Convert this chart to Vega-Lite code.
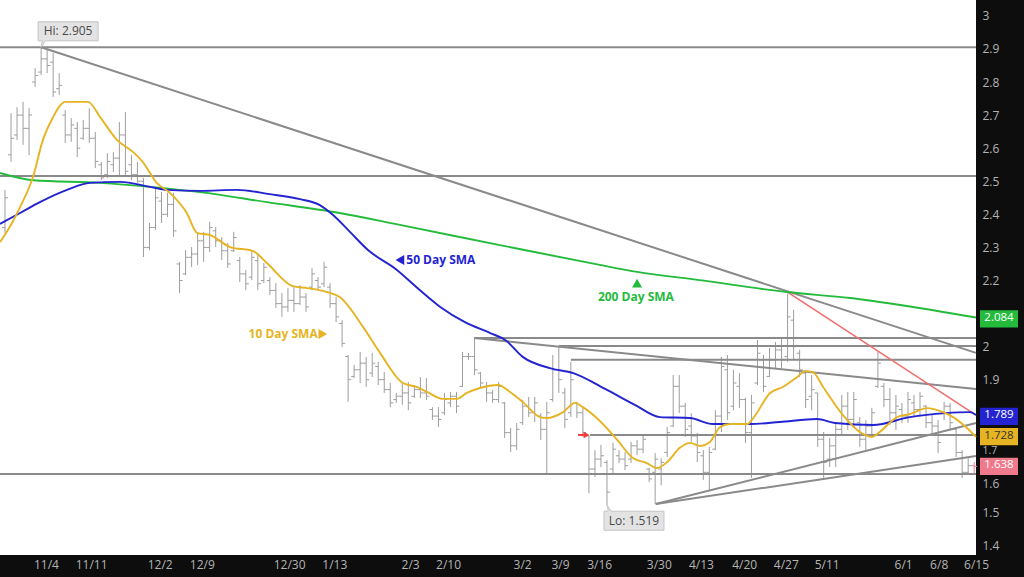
{
  "$schema": "https://vega.github.io/schema/vega-lite/v6.json",
  "width": 976,
  "height": 555,
  "autosize": {"type": "none"},
  "padding": {"left": 0, "top": 0, "right": 48, "bottom": 22},
  "background": "#0d0d0d",
  "view": {"fill": "#ffffff", "stroke": null},
  "config": {"font": "Open Sans", "axis": {"labelFont": "Open Sans", "labelFontSize": 12, "labelColor": "#b4b4b4", "grid": false, "domain": false, "ticks": false, "labelOverlap": false, "labelFlush": false}},
  "datasets": {
    "bars": [
{"i":0,"o":2.36,"h":2.474,"l":2.344,"c":2.45},
{"i":1,"o":2.58,"h":2.706,"l":2.558,"c":2.63},
{"i":2,"o":2.64,"h":2.724,"l":2.625,"c":2.70},
{"i":3,"o":2.70,"h":2.740,"l":2.610,"c":2.66},
{"i":4,"o":2.66,"h":2.721,"l":2.579,"c":2.70},
{"i":5,"o":2.80,"h":2.842,"l":2.785,"c":2.82},
{"i":6,"o":2.83,"h":2.905,"l":2.821,"c":2.87},
{"i":7,"o":2.87,"h":2.897,"l":2.827,"c":2.85},
{"i":8,"o":2.86,"h":2.888,"l":2.755,"c":2.77},
{"i":9,"o":2.78,"h":2.827,"l":2.761,"c":2.79},
{"i":10,"o":2.70,"h":2.715,"l":2.616,"c":2.64},
{"i":11,"o":2.64,"h":2.691,"l":2.619,"c":2.67},
{"i":12,"o":2.66,"h":2.679,"l":2.573,"c":2.60},
{"i":13,"o":2.63,"h":2.685,"l":2.625,"c":2.66},
{"i":14,"o":2.66,"h":2.721,"l":2.616,"c":2.63},
{"i":15,"o":2.63,"h":2.649,"l":2.540,"c":2.56},
{"i":16,"o":2.55,"h":2.558,"l":2.504,"c":2.51},
{"i":17,"o":2.52,"h":2.585,"l":2.510,"c":2.56},
{"i":18,"o":2.55,"h":2.588,"l":2.528,"c":2.57},
{"i":19,"o":2.57,"h":2.679,"l":2.513,"c":2.64},
{"i":20,"o":2.64,"h":2.709,"l":2.513,"c":2.53},
{"i":21,"o":2.55,"h":2.579,"l":2.504,"c":2.52},
{"i":22,"o":2.52,"h":2.558,"l":2.495,"c":2.50},
{"i":23,"o":2.50,"h":2.510,"l":2.271,"c":2.30},
{"i":24,"o":2.30,"h":2.374,"l":2.292,"c":2.36},
{"i":25,"o":2.36,"h":2.480,"l":2.353,"c":2.45},
{"i":26,"o":2.44,"h":2.468,"l":2.374,"c":2.40},
{"i":27,"o":2.40,"h":2.465,"l":2.392,"c":2.43},
{"i":28,"o":2.43,"h":2.465,"l":2.332,"c":2.35},
{"i":29,"o":2.25,"h":2.256,"l":2.162,"c":2.20},
{"i":30,"o":2.22,"h":2.292,"l":2.216,"c":2.27},
{"i":31,"o":2.27,"h":2.301,"l":2.241,"c":2.28},
{"i":32,"o":2.28,"h":2.344,"l":2.247,"c":2.32},
{"i":33,"o":2.32,"h":2.347,"l":2.256,"c":2.30},
{"i":34,"o":2.30,"h":2.377,"l":2.286,"c":2.36},
{"i":35,"o":2.35,"h":2.362,"l":2.301,"c":2.32},
{"i":36,"o":2.32,"h":2.331,"l":2.262,"c":2.29},
{"i":37,"o":2.29,"h":2.313,"l":2.238,"c":2.25},
{"i":38,"o":2.29,"h":2.347,"l":2.286,"c":2.33},
{"i":39,"o":2.26,"h":2.271,"l":2.195,"c":2.22},
{"i":40,"o":2.22,"h":2.232,"l":2.171,"c":2.19},
{"i":41,"o":2.21,"h":2.292,"l":2.201,"c":2.27},
{"i":42,"o":2.26,"h":2.283,"l":2.171,"c":2.19},
{"i":43,"o":2.20,"h":2.253,"l":2.192,"c":2.24},
{"i":44,"o":2.20,"h":2.210,"l":2.156,"c":2.17},
{"i":45,"o":2.17,"h":2.192,"l":2.117,"c":2.13},
{"i":46,"o":2.13,"h":2.162,"l":2.090,"c":2.12},
{"i":47,"o":2.12,"h":2.177,"l":2.105,"c":2.14},
{"i":48,"o":2.14,"h":2.180,"l":2.105,"c":2.13},
{"i":49,"o":2.13,"h":2.186,"l":2.126,"c":2.15},
{"i":50,"o":2.15,"h":2.162,"l":2.105,"c":2.12},
{"i":51,"o":2.18,"h":2.238,"l":2.171,"c":2.22},
{"i":52,"o":2.20,"h":2.210,"l":2.171,"c":2.18},
{"i":53,"o":2.19,"h":2.256,"l":2.180,"c":2.24},
{"i":54,"o":2.18,"h":2.192,"l":2.117,"c":2.13},
{"i":55,"o":2.13,"h":2.150,"l":2.074,"c":2.09},
{"i":56,"o":2.07,"h":2.080,"l":1.999,"c":2.01},
{"i":57,"o":1.97,"h":1.975,"l":1.833,"c":1.90},
{"i":58,"o":1.91,"h":1.945,"l":1.905,"c":1.93},
{"i":59,"o":1.93,"h":1.984,"l":1.890,"c":1.95},
{"i":60,"o":1.95,"h":1.969,"l":1.878,"c":1.90},
{"i":61,"o":1.92,"h":1.981,"l":1.908,"c":1.95},
{"i":62,"o":1.94,"h":1.954,"l":1.884,"c":1.90},
{"i":63,"o":1.90,"h":1.923,"l":1.860,"c":1.87},
{"i":64,"o":1.87,"h":1.890,"l":1.817,"c":1.83},
{"i":65,"o":1.84,"h":1.860,"l":1.830,"c":1.85},
{"i":66,"o":1.85,"h":1.890,"l":1.824,"c":1.86},
{"i":67,"o":1.86,"h":1.893,"l":1.808,"c":1.83},
{"i":68,"o":1.85,"h":1.884,"l":1.845,"c":1.87},
{"i":69,"o":1.87,"h":1.908,"l":1.845,"c":1.86},
{"i":70,"o":1.86,"h":1.905,"l":1.839,"c":1.85},
{"i":71,"o":1.81,"h":1.817,"l":1.778,"c":1.79},
{"i":72,"o":1.79,"h":1.817,"l":1.757,"c":1.78},
{"i":73,"o":1.80,"h":1.860,"l":1.793,"c":1.84},
{"i":74,"o":1.83,"h":1.863,"l":1.817,"c":1.85},
{"i":75,"o":1.85,"h":1.863,"l":1.799,"c":1.82},
{"i":76,"o":1.88,"h":1.984,"l":1.878,"c":1.97},
{"i":77,"o":1.97,"h":1.981,"l":1.960,"c":1.97},
{"i":78,"o":1.97,"h":2.029,"l":1.914,"c":1.93},
{"i":79,"o":1.92,"h":1.923,"l":1.875,"c":1.89},
{"i":80,"o":1.88,"h":1.893,"l":1.833,"c":1.86},
{"i":81,"o":1.86,"h":1.869,"l":1.830,"c":1.84},
{"i":82,"o":1.84,"h":1.893,"l":1.830,"c":1.88},
{"i":83,"o":1.83,"h":1.833,"l":1.724,"c":1.74},
{"i":84,"o":1.74,"h":1.754,"l":1.681,"c":1.70},
{"i":85,"o":1.70,"h":1.769,"l":1.687,"c":1.75},
{"i":86,"o":1.77,"h":1.839,"l":1.763,"c":1.82},
{"i":87,"o":1.82,"h":1.848,"l":1.787,"c":1.80},
{"i":88,"o":1.80,"h":1.848,"l":1.772,"c":1.83},
{"i":89,"o":1.79,"h":1.799,"l":1.718,"c":1.75},
{"i":90,"o":1.75,"h":1.833,"l":1.618,"c":1.80},
{"i":91,"o":1.84,"h":1.975,"l":1.833,"c":1.93},
{"i":92,"o":1.93,"h":1.999,"l":1.860,"c":1.90},
{"i":93,"o":1.86,"h":1.875,"l":1.754,"c":1.78},
{"i":94,"o":1.80,"h":1.954,"l":1.787,"c":1.90},
{"i":95,"o":1.83,"h":1.833,"l":1.784,"c":1.80},
{"i":96,"o":1.80,"h":1.817,"l":1.727,"c":1.74},
{"i":97,"o":1.73,"h":1.733,"l":1.557,"c":1.63},
{"i":98,"o":1.63,"h":1.687,"l":1.606,"c":1.66},
{"i":99,"o":1.66,"h":1.703,"l":1.636,"c":1.67},
{"i":100,"o":1.65,"h":1.657,"l":1.519,"c":1.56},
{"i":101,"o":1.63,"h":1.709,"l":1.618,"c":1.69},
{"i":102,"o":1.67,"h":1.687,"l":1.648,"c":1.66},
{"i":103,"o":1.66,"h":1.681,"l":1.627,"c":1.64},
{"i":104,"o":1.66,"h":1.712,"l":1.648,"c":1.70},
{"i":105,"o":1.70,"h":1.718,"l":1.672,"c":1.69},
{"i":106,"o":1.69,"h":1.733,"l":1.678,"c":1.72},
{"i":107,"o":1.63,"h":1.633,"l":1.591,"c":1.60},
{"i":108,"o":1.62,"h":1.678,"l":1.524,"c":1.66},
{"i":109,"o":1.63,"h":1.663,"l":1.581,"c":1.65},
{"i":110,"o":1.68,"h":1.757,"l":1.666,"c":1.74},
{"i":111,"o":1.76,"h":1.914,"l":1.757,"c":1.88},
{"i":112,"o":1.88,"h":1.914,"l":1.799,"c":1.82},
{"i":113,"o":1.82,"h":1.830,"l":1.727,"c":1.75},
{"i":114,"o":1.76,"h":1.799,"l":1.712,"c":1.73},
{"i":115,"o":1.73,"h":1.739,"l":1.651,"c":1.68},
{"i":116,"o":1.67,"h":1.687,"l":1.597,"c":1.62},
{"i":117,"o":1.62,"h":1.697,"l":1.566,"c":1.68},
{"i":118,"o":1.69,"h":1.808,"l":1.687,"c":1.79},
{"i":119,"o":1.79,"h":1.969,"l":1.742,"c":1.94},
{"i":120,"o":1.93,"h":1.975,"l":1.778,"c":1.80},
{"i":121,"o":1.82,"h":1.930,"l":1.808,"c":1.89},
{"i":122,"o":1.88,"h":1.920,"l":1.814,"c":1.84},
{"i":123,"o":1.84,"h":1.845,"l":1.709,"c":1.74},
{"i":124,"o":1.74,"h":1.854,"l":1.603,"c":1.83},
{"i":125,"o":1.89,"h":2.020,"l":1.884,"c":1.98},
{"i":126,"o":1.96,"h":1.975,"l":1.863,"c":1.88},
{"i":127,"o":1.91,"h":1.996,"l":1.908,"c":1.96},
{"i":128,"o":1.96,"h":2.014,"l":1.935,"c":1.99},
{"i":129,"o":1.99,"h":2.026,"l":1.935,"c":1.96},
{"i":130,"o":1.97,"h":2.160,"l":1.954,"c":2.09},
{"i":131,"o":2.08,"h":2.111,"l":1.960,"c":2.00},
{"i":132,"o":1.98,"h":1.990,"l":1.908,"c":1.93},
{"i":133,"o":1.92,"h":1.930,"l":1.814,"c":1.84},
{"i":134,"o":1.85,"h":1.914,"l":1.808,"c":1.87},
{"i":135,"o":1.86,"h":1.860,"l":1.697,"c":1.72},
{"i":136,"o":1.72,"h":1.742,"l":1.603,"c":1.65},
{"i":137,"o":1.66,"h":1.724,"l":1.636,"c":1.70},
{"i":138,"o":1.70,"h":1.769,"l":1.636,"c":1.75},
{"i":139,"o":1.75,"h":1.854,"l":1.733,"c":1.82},
{"i":140,"o":1.82,"h":1.863,"l":1.748,"c":1.78},
{"i":141,"o":1.78,"h":1.863,"l":1.757,"c":1.84},
{"i":142,"o":1.77,"h":1.787,"l":1.697,"c":1.72},
{"i":143,"o":1.72,"h":1.778,"l":1.687,"c":1.76},
{"i":144,"o":1.76,"h":1.815,"l":1.724,"c":1.80},
{"i":145,"o":1.88,"h":1.984,"l":1.875,"c":1.95},
{"i":146,"o":1.88,"h":1.890,"l":1.817,"c":1.84},
{"i":147,"o":1.84,"h":1.875,"l":1.763,"c":1.80},
{"i":148,"o":1.80,"h":1.854,"l":1.748,"c":1.82},
{"i":149,"o":1.81,"h":1.830,"l":1.769,"c":1.79},
{"i":150,"o":1.79,"h":1.863,"l":1.769,"c":1.84},
{"i":151,"o":1.83,"h":1.854,"l":1.787,"c":1.81},
{"i":152,"o":1.81,"h":1.863,"l":1.787,"c":1.85},
{"i":153,"o":1.82,"h":1.824,"l":1.754,"c":1.77},
{"i":154,"o":1.77,"h":1.793,"l":1.733,"c":1.76},
{"i":155,"o":1.76,"h":1.778,"l":1.678,"c":1.71},
{"i":156,"o":1.80,"h":1.833,"l":1.778,"c":1.82},
{"i":157,"o":1.82,"h":1.830,"l":1.748,"c":1.77},
{"i":158,"o":1.75,"h":1.757,"l":1.666,"c":1.68},
{"i":159,"o":1.68,"h":1.687,"l":1.603,"c":1.62},
{"i":160,"o":1.62,"h":1.663,"l":1.612,"c":1.64},
{"i":161,"o":1.64,"h":1.651,"l":1.618,"c":1.638}
    ],
    "ma": [
{"i":-0.83,"v":2.525,"s":"200"},{"i":4.7,"v":2.503,"s":"200"},{"i":15.8,"v":2.495,"s":"200"},{"i":24.1,"v":2.483,"s":"200"},{"i":32.4,"v":2.467,"s":"200"},{"i":43.5,"v":2.437,"s":"200"},{"i":55.6,"v":2.404,"s":"200"},{"i":65.6,"v":2.368,"s":"200"},{"i":82.2,"v":2.307,"s":"200"},{"i":98.8,"v":2.247,"s":"200"},{"i":105,"v":2.226,"s":"200"},{"i":115.4,"v":2.201,"s":"200"},{"i":129.9,"v":2.165,"s":"200"},{"i":140.4,"v":2.147,"s":"200"},{"i":148.7,"v":2.126,"s":"200"},{"i":161.3,"v":2.088,"s":"200"},
{"i":-0.83,"v":2.371,"s":"50"},{"i":2.5,"v":2.404,"s":"50"},{"i":5.8,"v":2.437,"s":"50"},{"i":10.3,"v":2.474,"s":"50"},{"i":14.1,"v":2.495,"s":"50"},{"i":19.1,"v":2.498,"s":"50"},{"i":24.1,"v":2.483,"s":"50"},{"i":26.9,"v":2.474,"s":"50"},{"i":32.4,"v":2.471,"s":"50"},{"i":38.5,"v":2.474,"s":"50"},{"i":44.0,"v":2.461,"s":"50"},{"i":49.0,"v":2.446,"s":"50"},{"i":52.3,"v":2.428,"s":"50"},{"i":54.5,"v":2.398,"s":"50"},{"i":57.3,"v":2.347,"s":"50"},{"i":60.3,"v":2.292,"s":"50"},{"i":65.1,"v":2.232,"s":"50"},{"i":68.9,"v":2.171,"s":"50"},{"i":72.3,"v":2.120,"s":"50"},{"i":76.4,"v":2.074,"s":"50"},{"i":80.6,"v":2.041,"s":"50"},{"i":83.1,"v":2.020,"s":"50"},{"i":86.0,"v":1.969,"s":"50"},{"i":90.5,"v":1.935,"s":"50"},{"i":94.4,"v":1.920,"s":"50"},{"i":100.0,"v":1.869,"s":"50"},{"i":104.7,"v":1.823,"s":"50"},{"i":108.8,"v":1.787,"s":"50"},{"i":113.8,"v":1.784,"s":"50"},{"i":117.6,"v":1.766,"s":"50"},{"i":123.8,"v":1.766,"s":"50"},{"i":128.7,"v":1.772,"s":"50"},{"i":134.9,"v":1.781,"s":"50"},{"i":137.9,"v":1.769,"s":"50"},{"i":144.2,"v":1.763,"s":"50"},{"i":150.3,"v":1.787,"s":"50"},{"i":156.2,"v":1.799,"s":"50"},{"i":160.3,"v":1.802,"s":"50"},{"i":161.3,"v":1.793,"s":"50"},
{"i":-0.83,"v":2.316,"s":"10"},{"i":1.16,"v":2.374,"s":"10"},{"i":2.5,"v":2.422,"s":"10"},{"i":4.65,"v":2.513,"s":"10"},{"i":6.3,"v":2.625,"s":"10"},{"i":8.0,"v":2.694,"s":"10"},{"i":9.1,"v":2.728,"s":"10"},{"i":10.0,"v":2.740,"s":"10"},{"i":13.8,"v":2.740,"s":"10"},{"i":15.8,"v":2.694,"s":"10"},{"i":18.6,"v":2.625,"s":"10"},{"i":21.3,"v":2.588,"s":"10"},{"i":22.9,"v":2.558,"s":"10"},{"i":25.2,"v":2.495,"s":"10"},{"i":27.4,"v":2.465,"s":"10"},{"i":30.2,"v":2.404,"s":"10"},{"i":31.9,"v":2.344,"s":"10"},{"i":34.1,"v":2.337,"s":"10"},{"i":37.4,"v":2.301,"s":"10"},{"i":41.2,"v":2.289,"s":"10"},{"i":43.5,"v":2.253,"s":"10"},{"i":47.8,"v":2.183,"s":"10"},{"i":50.2,"v":2.177,"s":"10"},{"i":53.5,"v":2.165,"s":"10"},{"i":55.6,"v":2.150,"s":"10"},{"i":59.5,"v":2.059,"s":"10"},{"i":62.3,"v":1.981,"s":"10"},{"i":66.1,"v":1.890,"s":"10"},{"i":68.4,"v":1.878,"s":"10"},{"i":70.1,"v":1.863,"s":"10"},{"i":72.8,"v":1.842,"s":"10"},{"i":75.1,"v":1.842,"s":"10"},{"i":76.7,"v":1.860,"s":"10"},{"i":78.9,"v":1.875,"s":"10"},{"i":81.9,"v":1.884,"s":"10"},{"i":83.9,"v":1.863,"s":"10"},{"i":86.0,"v":1.833,"s":"10"},{"i":88.9,"v":1.787,"s":"10"},{"i":90.0,"v":1.784,"s":"10"},{"i":92.7,"v":1.802,"s":"10"},{"i":94.7,"v":1.830,"s":"10"},{"i":96.0,"v":1.817,"s":"10"},{"i":98.3,"v":1.784,"s":"10"},{"i":101.7,"v":1.718,"s":"10"},{"i":104.3,"v":1.663,"s":"10"},{"i":106.6,"v":1.648,"s":"10"},{"i":108.3,"v":1.633,"s":"10"},{"i":110.0,"v":1.651,"s":"10"},{"i":112.1,"v":1.694,"s":"10"},{"i":113.8,"v":1.709,"s":"10"},{"i":115.4,"v":1.700,"s":"10"},{"i":117.1,"v":1.712,"s":"10"},{"i":118.8,"v":1.757,"s":"10"},{"i":120.4,"v":1.766,"s":"10"},{"i":123.3,"v":1.766,"s":"10"},{"i":124.3,"v":1.784,"s":"10"},{"i":127.1,"v":1.860,"s":"10"},{"i":129.2,"v":1.878,"s":"10"},{"i":131.6,"v":1.908,"s":"10"},{"i":132.9,"v":1.926,"s":"10"},{"i":134.2,"v":1.923,"s":"10"},{"i":135.9,"v":1.878,"s":"10"},{"i":139.2,"v":1.793,"s":"10"},{"i":142.0,"v":1.742,"s":"10"},{"i":144.0,"v":1.727,"s":"10"},{"i":145.3,"v":1.742,"s":"10"},{"i":148.2,"v":1.787,"s":"10"},{"i":150.3,"v":1.796,"s":"10"},{"i":153.2,"v":1.814,"s":"10"},{"i":155.8,"v":1.802,"s":"10"},{"i":157.5,"v":1.787,"s":"10"},{"i":159.8,"v":1.754,"s":"10"},{"i":161.3,"v":1.727,"s":"10"}
    ],
    "lines": [
{"a":-0.83,"va":2.905,"b":161.3,"vb":2.905,"k":"g"},
{"a":-0.83,"va":2.516,"b":161.3,"vb":2.516,"k":"g"},
{"a":-0.83,"va":1.615,"b":161.3,"vb":1.615,"k":"g"},
{"a":78,"va":2.026,"b":161.3,"vb":2.026,"k":"g"},
{"a":92,"va":2.002,"b":161.3,"vb":2.002,"k":"g"},
{"a":94,"va":1.96,"b":161.3,"vb":1.96,"k":"g"},
{"a":97.2,"va":1.733,"b":161.3,"vb":1.733,"k":"g"},
{"a":6,"va":2.905,"b":161.3,"vb":1.981,"k":"g"},
{"a":78,"va":2.026,"b":161.3,"vb":1.872,"k":"g"},
{"a":108.1,"va":1.524,"b":161.3,"vb":1.769,"k":"g"},
{"a":108.1,"va":1.524,"b":161.3,"vb":1.669,"k":"g"},
{"a":130,"va":2.165,"b":161.3,"vb":1.793,"k":"r"}
    ],
    "arrow": [{"a":95.2,"b":96.6,"v":1.733}],
    "notes": [
{"i":46.2,"v":2.038,"t":"10 Day SMA","s":"10"},
{"i":72.4,"v":2.262,"t":"50 Day SMA","s":"50"},
{"i":104.8,"v":2.150,"t":"200 Day SMA","s":"200"}
    ],
    "tri": [
{"i":52.8,"v":2.038,"s":"10"},
{"i":65.6,"v":2.262,"s":"50"},
{"i":105.0,"v":2.192,"s":"200"}
    ],
    "hi": [{"i":6,"v":2.905,"t":"Hi: 2.905"}],
    "lo": [{"i":100,"v":1.519,"t":"Lo: 1.519"}],
    "tags": [
{"v":2.084,"s":"200","t":"2.084"},
{"v":1.789,"s":"50","t":"1.789"},
{"v":1.728,"s":"10","t":"1.728"},
{"v":1.638,"s":"last","t":"1.638"}
    ]
  },
  "layer": [
    {
      "data": {"name": "bars"},
      "mark": {"type": "rule", "strokeWidth": 1},
      "encoding": {
        "x": {"field": "i", "type": "quantitative", "scale": {"domain": [-0.83, 161.3], "nice": false, "zero": false},
          "axis": {"title": null, "grid": false, "domain": false, "ticks": false, "labelPadding": 4, "labelFlush": false, "labelOverlap": false, "labelBound": false, "tickCount": 40,
            "values": [6.8,14.3,25.7,32.7,47.2,54.7,67.3,73.6,85.9,92.2,98.7,108.6,115.6,122.8,129.7,136.5,149.2,155.1,161.3],
            "labelExpr": "['11/4','11/11','12/2','12/9','12/30','1/13','2/3','2/10','3/2','3/9','3/16','3/30','4/13','4/20','4/27','5/11','6/1','6/8','6/15'][indexof([6.8,14.3,25.7,32.7,47.2,54.7,67.3,73.6,85.9,92.2,98.7,108.6,115.6,122.8,129.7,136.5,149.2,155.1,161.3], datum.value)]"}},
        "y": {"field": "l", "type": "quantitative", "scale": {"domain": [1.37, 3.048], "nice": false, "zero": false},
          "axis": {"orient": "right", "title": null, "grid": false, "domain": false, "ticks": false, "labelPadding": 6, "labelOverlap": false, "labelFlush": false, "tickCount": 40,
            "labelOffset": {"condition": {"test": "datum.value > 1.55 && datum.value < 1.75", "value": 5}, "value": 0},
            "labelFontSize": {"condition": {"test": "datum.value > 1.65 && datum.value < 1.75", "value": 10.5}, "value": 12},
            "values": [1.4,1.5,1.6,1.7,1.9,2,2.2,2.3,2.4,2.5,2.6,2.7,2.8,2.9,3], "format": ".1~f"}},
        "y2": {"field": "h"},
        "color": {"condition": {"test": "datum.i === 161", "value": "#ef7d8f"}, "value": "#9d9d9d"}
      }
    },
    {
      "data": {"name": "bars"},
      "mark": {"type": "tick", "orient": "horizontal", "size": 3, "thickness": 1, "xOffset": -1.5, "opacity": 1},
      "encoding": {
        "x": {"field": "i", "type": "quantitative", "scale": {"domain": [-0.83, 161.3], "nice": false, "zero": false}},
        "y": {"field": "o", "type": "quantitative", "scale": {"domain": [1.37, 3.048], "nice": false, "zero": false}},
        "color": {"condition": {"test": "datum.i === 161", "value": "#ef7d8f"}, "value": "#9d9d9d"}
      }
    },
    {
      "data": {"name": "bars"},
      "mark": {"type": "tick", "orient": "horizontal", "size": 3, "thickness": 1, "xOffset": 1.5, "opacity": 1},
      "encoding": {
        "x": {"field": "i", "type": "quantitative", "scale": {"domain": [-0.83, 161.3], "nice": false, "zero": false}},
        "y": {"field": "c", "type": "quantitative", "scale": {"domain": [1.37, 3.048], "nice": false, "zero": false}},
        "color": {"condition": {"test": "datum.i === 161", "value": "#ef7d8f"}, "value": "#9d9d9d"}
      }
    },
    {
      "data": {"name": "lines"},
      "transform": [{"filter": "datum.k === 'g'"}],
      "mark": {"type": "rule", "color": "#8a8a8a", "strokeWidth": 2},
      "encoding": {
        "x": {"field": "a", "type": "quantitative", "scale": {"domain": [-0.83, 161.3], "nice": false, "zero": false}},
        "x2": {"field": "b"},
        "y": {"field": "va", "type": "quantitative", "scale": {"domain": [1.37, 3.048], "nice": false, "zero": false}},
        "y2": {"field": "vb"}
      }
    },
    {
      "data": {"name": "lines"},
      "transform": [{"filter": "datum.k === 'r'"}],
      "mark": {"type": "rule", "color": "#f06c6c", "strokeWidth": 1.5},
      "encoding": {
        "x": {"field": "a", "type": "quantitative", "scale": {"domain": [-0.83, 161.3], "nice": false, "zero": false}},
        "x2": {"field": "b"},
        "y": {"field": "va", "type": "quantitative", "scale": {"domain": [1.37, 3.048], "nice": false, "zero": false}},
        "y2": {"field": "vb"}
      }
    },
    {
      "data": {"name": "ma"},
      "mark": {"type": "line", "strokeWidth": 1.9, "interpolate": "monotone"},
      "encoding": {
        "x": {"field": "i", "type": "quantitative", "scale": {"domain": [-0.83, 161.3], "nice": false, "zero": false}},
        "y": {"field": "v", "type": "quantitative", "scale": {"domain": [1.37, 3.048], "nice": false, "zero": false}},
        "color": {"field": "s", "type": "nominal", "scale": {"domain": ["10", "50", "200", "last"], "range": ["#e6b422", "#2323d2", "#24bb3d", "#f07a8c"]}, "legend": null}
      }
    },
    {
      "data": {"name": "arrow"},
      "mark": {"type": "rule", "color": "#f03c3c", "strokeWidth": 2},
      "encoding": {
        "x": {"field": "a", "type": "quantitative", "scale": {"domain": [-0.83, 161.3], "nice": false, "zero": false}},
        "x2": {"field": "b"},
        "y": {"field": "v", "type": "quantitative", "scale": {"domain": [1.37, 3.048], "nice": false, "zero": false}}
      }
    },
    {
      "data": {"name": "arrow"},
      "mark": {"type": "point", "shape": "triangle-right", "filled": true, "opacity": 1, "size": 45, "color": "#f03c3c"},
      "encoding": {
        "x": {"field": "b", "type": "quantitative", "scale": {"domain": [-0.83, 161.3], "nice": false, "zero": false}},
        "y": {"field": "v", "type": "quantitative", "scale": {"domain": [1.37, 3.048], "nice": false, "zero": false}}
      }
    },
    {
      "data": {"name": "notes"},
      "mark": {"type": "text", "font": "Open Sans", "fontSize": 12, "fontWeight": "bold", "align": "center", "baseline": "middle"},
      "encoding": {
        "x": {"field": "i", "type": "quantitative", "scale": {"domain": [-0.83, 161.3], "nice": false, "zero": false}},
        "y": {"field": "v", "type": "quantitative", "scale": {"domain": [1.37, 3.048], "nice": false, "zero": false}},
        "text": {"field": "t"},
        "color": {"field": "s", "type": "nominal", "scale": {"domain": ["10", "50", "200", "last"], "range": ["#e6b422", "#2323d2", "#24bb3d", "#f07a8c"]}, "legend": null}
      }
    },
    {
      "data": {"name": "tri"},
      "mark": {"type": "point", "filled": true, "opacity": 1, "size": 100},
      "encoding": {
        "x": {"field": "i", "type": "quantitative", "scale": {"domain": [-0.83, 161.3], "nice": false, "zero": false}},
        "y": {"field": "v", "type": "quantitative", "scale": {"domain": [1.37, 3.048], "nice": false, "zero": false}},
        "shape": {"field": "s", "type": "nominal", "scale": {"domain": ["10", "50", "200"], "range": ["triangle-right", "triangle-left", "triangle-up"]}, "legend": null},
        "color": {"field": "s", "type": "nominal", "scale": {"domain": ["10", "50", "200", "last"], "range": ["#e6b422", "#2323d2", "#24bb3d", "#f07a8c"]}, "legend": null}
      }
    },
    {
      "data": {"name": "hi"},
      "mark": {"type": "point", "filled": true, "opacity": 1, "size": 3600, "fill": "#e3e3e3", "stroke": "#c4c4c4", "strokeWidth": 1, "xOffset": 27, "yOffset": -16,
        "shape": "M-1,-0.317L1,-0.317L1,0.317L-0.76,0.317L-0.9,0.533L-0.86,0.317L-1,0.317Z"},
      "encoding": {
        "x": {"field": "i", "type": "quantitative", "scale": {"domain": [-0.83, 161.3], "nice": false, "zero": false}},
        "y": {"field": "v", "type": "quantitative", "scale": {"domain": [1.37, 3.048], "nice": false, "zero": false}}
      }
    },
    {
      "data": {"name": "hi"},
      "mark": {"type": "text", "font": "Open Sans", "fontSize": 12, "color": "#4a4a4a", "xOffset": 27, "yOffset": -16, "align": "center", "baseline": "middle"},
      "encoding": {
        "x": {"field": "i", "type": "quantitative", "scale": {"domain": [-0.83, 161.3], "nice": false, "zero": false}},
        "y": {"field": "v", "type": "quantitative", "scale": {"domain": [1.37, 3.048], "nice": false, "zero": false}},
        "text": {"field": "t"}
      }
    },
    {
      "data": {"name": "lo"},
      "mark": {"type": "point", "filled": true, "opacity": 1, "size": 3600, "fill": "#e3e3e3", "stroke": "#c4c4c4", "strokeWidth": 1, "xOffset": 27, "yOffset": 15,
        "shape": "M-1,-0.317L-0.86,-0.317L-0.883,-0.5L-0.76,-0.317L1,-0.317L1,0.317L-1,0.317Z"},
      "encoding": {
        "x": {"field": "i", "type": "quantitative", "scale": {"domain": [-0.83, 161.3], "nice": false, "zero": false}},
        "y": {"field": "v", "type": "quantitative", "scale": {"domain": [1.37, 3.048], "nice": false, "zero": false}}
      }
    },
    {
      "data": {"name": "lo"},
      "mark": {"type": "text", "font": "Open Sans", "fontSize": 12, "color": "#4a4a4a", "xOffset": 27, "yOffset": 15, "align": "center", "baseline": "middle"},
      "encoding": {
        "x": {"field": "i", "type": "quantitative", "scale": {"domain": [-0.83, 161.3], "nice": false, "zero": false}},
        "y": {"field": "v", "type": "quantitative", "scale": {"domain": [1.37, 3.048], "nice": false, "zero": false}},
        "text": {"field": "t"}
      }
    },
    {
      "data": {"name": "tags"},
      "mark": {"type": "point", "filled": true, "opacity": 1, "size": 1444, "xOffset": 23, "shape": "M-1,-0.45L1,-0.45L1,0.45L-1,0.45Z"},
      "encoding": {
        "x": {"datum": 161.3, "type": "quantitative", "scale": {"domain": [-0.83, 161.3], "nice": false, "zero": false}},
        "y": {"field": "v", "type": "quantitative", "scale": {"domain": [1.37, 3.048], "nice": false, "zero": false}},
        "color": {"field": "s", "type": "nominal", "scale": {"domain": ["10", "50", "200", "last"], "range": ["#e6b422", "#2323d2", "#24bb3d", "#f07a8c"]}, "legend": null}
      }
    },
    {
      "data": {"name": "tags"},
      "mark": {"type": "text", "font": "Open Sans", "fontSize": 11.5, "xOffset": 23, "yOffset": -1, "align": "center", "baseline": "middle"},
      "encoding": {
        "x": {"datum": 161.3, "type": "quantitative", "scale": {"domain": [-0.83, 161.3], "nice": false, "zero": false}},
        "y": {"field": "v", "type": "quantitative", "scale": {"domain": [1.37, 3.048], "nice": false, "zero": false}},
        "text": {"field": "t"},
        "color": {"condition": {"test": "datum.s === '10'", "value": "#333333"}, "value": "#ffffff"}
      }
    }
  ]
}
